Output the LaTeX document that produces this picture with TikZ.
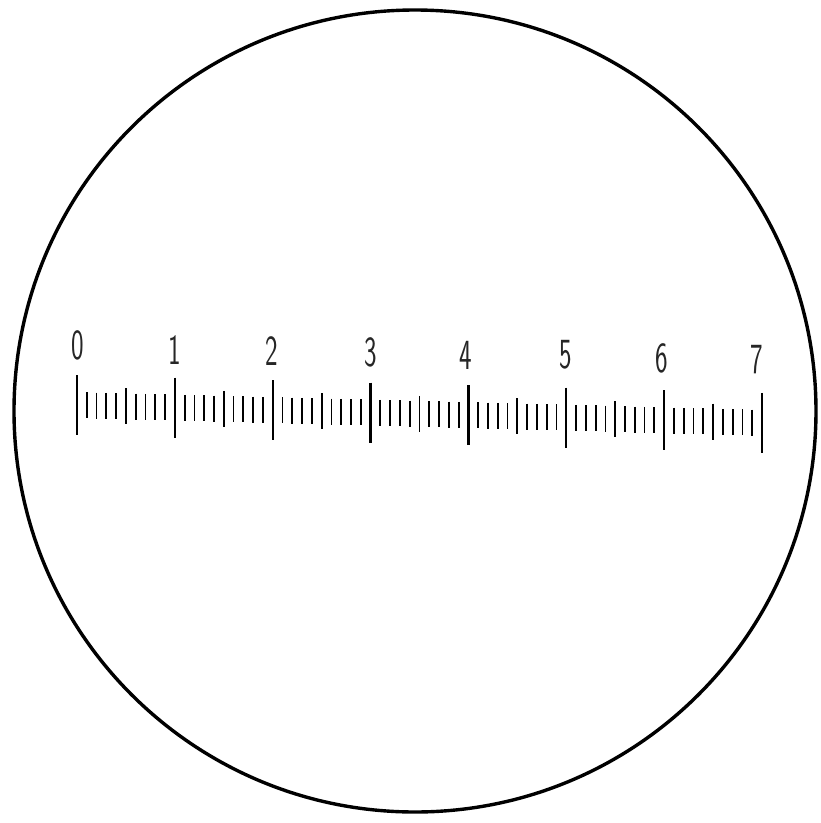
\documentclass[tikz,border=0pt]{standalone}
\begin{document}
\begin{tikzpicture}[x=1pt,y=-1pt,
  minortick/.style={line width=1.8pt, line cap=butt},
  majortick/.style={line width=2.3pt, line cap=butt},
  digit/.style={font=\sffamily\fontsize{43}{43}\selectfont, xscale=0.62, inner sep=0pt, text=black!85}]
\useasboundingbox (0,0) rectangle (821,823);
\node[draw, circle, line width=3.4pt, minimum size=802pt, inner sep=0pt] (field) at (415,411) {};
\foreach \i in {0,...,70} {
  \pgfmathsetmacro\xx{77+\i*97.86/10}
  \pgfmathsetmacro\yc{405+0.026*(\xx-77)}
  \pgfmathtruncatemacro\mm{mod(\i,10)}
  \pgfmathtruncatemacro\mf{mod(\i,5)}
  \ifnum\mm=0
    \draw[majortick] (\xx,\yc-30) -- (\xx,\yc+30);
  \else\ifnum\mf=0
    \draw[minortick] (\xx,\yc-18) -- (\xx,\yc+18);
  \else
    \draw[minortick] (\xx,\yc-13) -- (\xx,\yc+13);
  \fi\fi
}
\foreach \n/\lx/\ly in {0/78/345,1/175/350,2/272/351,3/371/352,4/466/355,5/566/355,6/662/358,7/757/360}
  \node[digit] (l\n) at (\lx,\ly) {\n};
\end{tikzpicture}
\end{document}
